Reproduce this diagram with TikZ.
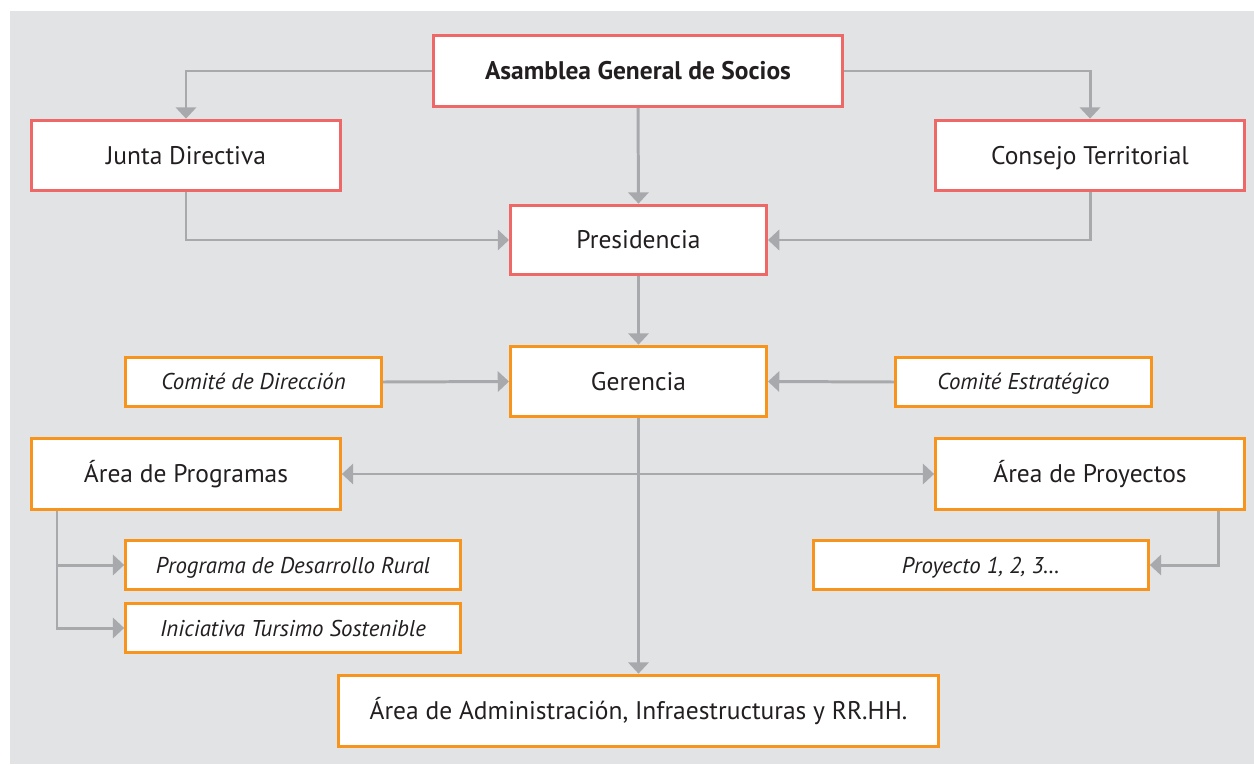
\documentclass[tikz,border=0pt]{standalone}
\usepackage{fontspec}
\setmainfont{PT Sans}
\usetikzlibrary{arrows.meta}
\definecolor{fondo}{RGB}{226,227,229}
\definecolor{rojo}{RGB}{239,104,104}
\definecolor{naranja}{RGB}{247,148,29}
\definecolor{linea}{RGB}{167,169,172}
\definecolor{texto}{RGB}{35,31,32}
\tikzset{
	caja/.style={draw, fill=white, line width=1.7pt, text=texto, inner sep=0pt, text depth=0pt},
	cajaroja/.style={caja, draw=rojo, minimum height=71*0.567pt, text height=10.2pt, font=\fontsize{14.5}{17}\selectfont},
	cajanar/.style={caja, draw=naranja, minimum height=71*0.567pt, text height=10.2pt, font=\fontsize{14.5}{17}\selectfont},
	cajachica/.style={caja, draw=naranja, minimum height=50*0.567pt, text height=9.1pt, font=\fontsize{13}{15}\selectfont\itshape},
	flecha/.style={draw=linea, line width=1.7pt, -{Triangle[length=6.4pt,width=11.5pt]}},
	dobleflecha/.style={flecha, {Triangle[length=6.4pt,width=11.5pt]}-{Triangle[length=6.4pt,width=11.5pt]}}
}

\begin{document}
\begin{tikzpicture}[x=0.02cm, y=-0.02cm]
			%%%%% START %%%%%
			
			\useasboundingbox (0, 0) rectangle (1254, 764);
			\fill[fondo] (10, 11) rectangle (1254, 764);
			
			\node[cajaroja, minimum width=410*0.567pt, font=\fontsize{14.5}{17}\selectfont\bfseries] (asamblea) at (638, 71) {Asamblea General de Socios};
			\node[cajaroja, minimum width=310*0.567pt] (junta) at (186, 155.5) {Junta Directiva};
			\node[cajaroja, minimum width=310*0.567pt] (consejo) at (1090, 155.5) {Consejo Territorial};
			\node[cajaroja, minimum width=257*0.567pt, minimum height=70*0.567pt] (presidencia) at (638.5, 240) {Presidencia};
			
			\node[cajanar, minimum width=257*0.567pt] (gerencia) at (638.5, 381.5) {Gerencia};
			\node[cajachica, minimum width=257*0.567pt] (direccion) at (253.5, 382) {Comité de Dirección};
			\node[cajachica, minimum width=257*0.567pt] (estrategico) at (1023.5, 382) {Comité Estratégico};
			
			\node[cajanar, minimum width=310*0.567pt, minimum height=72*0.567pt] (programas) at (186, 474) {Área de Programas};
			\node[cajanar, minimum width=310*0.567pt, minimum height=72*0.567pt] (proyectos) at (1090, 474) {Área de Proyectos};
			
			\node[cajachica, minimum width=336*0.567pt] (rural) at (293, 565) {Programa de Desarrollo Rural};
			\node[cajachica, minimum width=336*0.567pt] (turismo) at (293, 628) {Iniciativa Tursimo Sostenible};
			\node[cajachica, minimum width=336*0.567pt] (proyecto) at (981, 565) {Proyecto 1, 2, 3…};
			
			\node[cajanar, minimum width=603*0.567pt, minimum height=72*0.567pt] (admin) at (638.5, 711) {Área de Administración, Infraestructuras y RR.HH.};
			
			\draw[flecha] (asamblea.west) -| (junta.north);
			\draw[flecha] (asamblea.east) -| (consejo.north);
			\draw[flecha] (asamblea.south) -- (presidencia.north);
			\draw[flecha] (junta.south) |- (presidencia.west);
			\draw[flecha] (consejo.south) |- (presidencia.east);
			\draw[flecha] (presidencia.south) -- (gerencia.north);
			
			\draw[flecha] (direccion.east) -- (gerencia.west);
			\draw[flecha] (estrategico.west) -- (gerencia.east);
			\draw[flecha] (gerencia.south) -- (admin.north);
			\draw[dobleflecha] (programas.east) -- (proyectos.west);
			
			\draw[flecha] ([xshift=27*0.567pt]programas.south west) |- (rural.west);
			\draw[flecha] ([xshift=27*0.567pt]programas.south west) |- (turismo.west);
			\draw[flecha] ([xshift=-28*0.567pt]proyectos.south east) |- (proyecto.east);
			
			%%%%% END %%%%%
		\end{tikzpicture}
\end{document}
